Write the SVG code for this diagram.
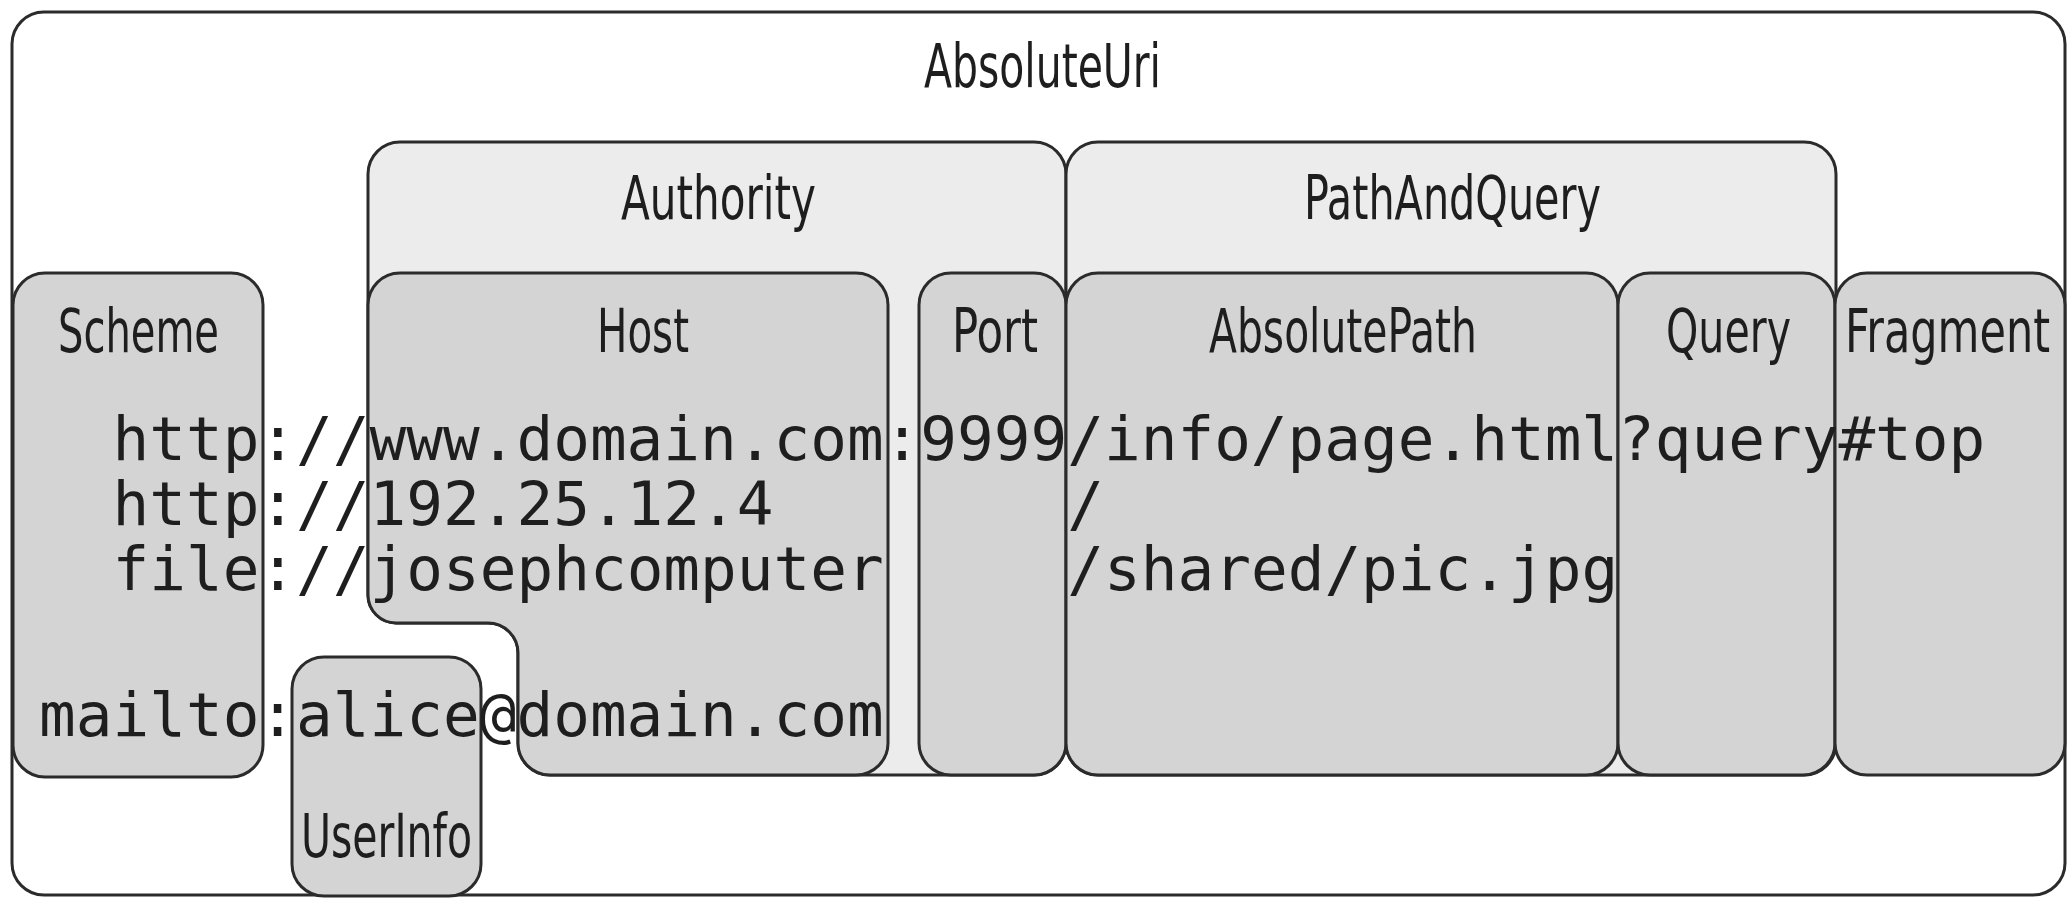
<svg xmlns="http://www.w3.org/2000/svg" width="2068" height="898" viewBox="0 0 2068 898">
  <style>
    .box { stroke: #2b2b2b; stroke-width: 3; stroke-linejoin: round; }
    .outer { fill: #ffffff; }
    .group { fill: #ececec; }
    .part { fill: #d4d4d4; }
    .label { font-family: "Liberation Sans Narrow", "DejaVu Sans Condensed", "Liberation Sans", sans-serif; font-stretch: condensed; font-size: 61px; fill: #1e1e1e; }
    .mono { font-family: "DejaVu Sans Mono", "Liberation Mono", monospace; font-size: 61px; fill: #1e1e1e; }
  </style>

  <!-- whole URI -->
  <g id="absolute-uri">
    <rect class="box outer" x="12" y="12" width="2053" height="883" rx="32" ry="32"/>
    <text class="label" x="924" y="87" textLength="237" lengthAdjust="spacingAndGlyphs">AbsoluteUri</text>
  </g>

  <!-- authority: host + port, notched where the user info sits -->
  <g id="authority">
    <path class="box group" d="M 400 142 H 1034 A 32 32 0 0 1 1066 174 V 743 A 32 32 0 0 1 1034 775 H 550 A 32 32 0 0 1 518 743 V 653 A 30 30 0 0 0 488 623 H 396 A 28 28 0 0 1 368 595 V 174 A 32 32 0 0 1 400 142 Z"/>
    <text class="label" x="621" y="219" textLength="195" lengthAdjust="spacingAndGlyphs">Authority</text>
  </g>

  <g id="path-and-query">
    <rect class="box group" x="1066" y="142" width="770" height="633" rx="32" ry="32"/>
    <text class="label" x="1304" y="219" textLength="297" lengthAdjust="spacingAndGlyphs">PathAndQuery</text>
  </g>

  <g id="scheme">
    <rect class="box part" x="13" y="273" width="250" height="504" rx="32" ry="32"/>
    <text class="label" x="58" y="352" textLength="161" lengthAdjust="spacingAndGlyphs">Scheme</text>
  </g>

  <g id="host">
    <path class="box part" d="M 400 273 H 856 A 32 32 0 0 1 888 305 V 743 A 32 32 0 0 1 856 775 H 550 A 32 32 0 0 1 518 743 V 653 A 30 30 0 0 0 488 623 H 396 A 28 28 0 0 1 368 595 V 305 A 32 32 0 0 1 400 273 Z"/>
    <text class="label" x="597" y="352" textLength="92" lengthAdjust="spacingAndGlyphs">Host</text>
  </g>

  <g id="port">
    <rect class="box part" x="919" y="273" width="147" height="502" rx="32" ry="32"/>
    <text class="label" x="952" y="352" textLength="86" lengthAdjust="spacingAndGlyphs">Port</text>
  </g>

  <g id="absolute-path">
    <rect class="box part" x="1066" y="273" width="552" height="502" rx="32" ry="32"/>
    <text class="label" x="1209" y="352" textLength="268" lengthAdjust="spacingAndGlyphs">AbsolutePath</text>
  </g>

  <g id="query">
    <rect class="box part" x="1618" y="273" width="217" height="502" rx="32" ry="32"/>
    <text class="label" x="1666" y="352" textLength="125" lengthAdjust="spacingAndGlyphs">Query</text>
  </g>

  <g id="fragment">
    <rect class="box part" x="1835" y="273" width="230" height="502" rx="32" ry="32"/>
    <text class="label" x="1845" y="352" textLength="205" lengthAdjust="spacingAndGlyphs">Fragment</text>
  </g>

  <g id="user-info">
    <rect class="box part" x="292" y="657" width="189" height="239" rx="32" ry="32"/>
    <text class="label" x="301" y="857" textLength="171" lengthAdjust="spacingAndGlyphs">UserInfo</text>
  </g>

  <!-- sample URIs, one character column per 36.72px -->
  <g id="examples" class="mono">
    <text x="112.5" y="460" textLength="1872.8" lengthAdjust="spacing">http://www.domain.com:9999/info/page.html?query#top</text>
    <text x="112.5" y="525" textLength="661" lengthAdjust="spacing">http://192.25.12.4</text>
    <text x="1067.3" y="525">/</text>
    <text x="112.5" y="590" textLength="771.2" lengthAdjust="spacing">file://josephcomputer</text>
    <text x="1067.3" y="590" textLength="550.9" lengthAdjust="spacing">/shared/pic.jpg</text>
    <text x="39" y="736" textLength="844.7" lengthAdjust="spacing">mailto:alice@domain.com</text>
  </g>
</svg>
